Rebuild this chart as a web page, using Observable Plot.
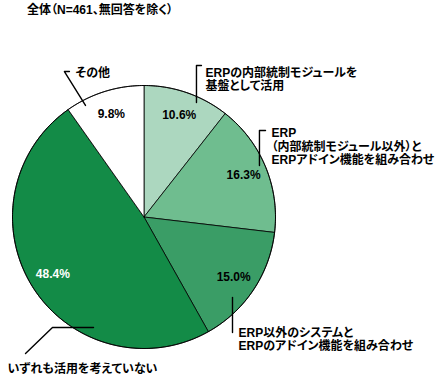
<!DOCTYPE html>
<html><head><meta charset="utf-8">
<script src="https://cdn.jsdelivr.net/npm/d3@7"></script>
<script src="https://cdn.jsdelivr.net/npm/@observablehq/plot@0.6"></script>
<style>
body{margin:0;background:#fff;}
#title{height:30px;line-height:30px;padding-left:27px;font:bold 12px "Liberation Sans","Noto Sans CJK JP",sans-serif;font-feature-settings:"palt";color:#000;}
svg text{font-feature-settings:"palt";}
</style>
</head><body>
<div id="title">全体（N=461、無回答を除く）</div>
<div id="chart"></div>
<script>
// ---- data ----
const categories = [
  "ERPの内部統制モジュールを\n基盤として活用",
  "ERP\n（内部統制モジュール以外）と\nERPアドイン機能を組み合わせ",
  "ERP以外のシステムと\nERPのアドイン機能を組み合わせ",
  "いずれも活用を考えていない",
  "その他"
];
const values = [10.6, 16.3, 15.0, 48.4, 9.8];
const valueLabels = ["10.6%", "16.3%", "15.0%", "48.4%", "9.8%"];

// ---- styles ----
const fills = ["#acd7bf", "#6fbd8f", "#3a9d66", "#138b47", "#ffffff"];
const labelColors = ["#000", "#000", "#000", "#fff", "#000"];

// ---- layout (pie data units: radius = 1) ----
const labelPos = [[0.468, 1.049], [0.970, 0.536], [0.719, -0.928], [-1.038, -1.152], [-0.521, 1.099]];
const leaderLines = [
  [[0.437, 1.152], [0.399, 1.152], [0.399, 0.871]],
  [[0.924, 0.658], [0.878, 0.658], [0.878, 0.392]],
  [[0.673, -0.612], [0.673, -0.878]],
  [[-0.901, -1.038], [-0.696, -0.840], [-0.384, -0.840]],
  [[-0.567, 1.106], [-0.605, 1.106], [-0.445, 0.848]]
];

// ---- build slices from data ----
const total = d3.sum(values);
let acc = 0;
const slices = values.map((v, i) => {
  const a0 = acc / total * 2 * Math.PI;
  acc += v;
  const a1 = acc / total * 2 * Math.PI;
  const n = Math.max(2, Math.ceil((a1 - a0) / (Math.PI / 180)));
  const pts = [[0, 0]];
  for (let k = 0; k <= n; k++) {
    const a = a0 + (a1 - a0) * k / n;
    pts.push([Math.sin(a), Math.cos(a)]);
  }
  pts.push([0, 0]);
  const mid = (a0 + a1) / 2;
  return {i, pts, mid};
});

const cx = 143.5, cy = 186.5, R = 131.5;
const font = '"Liberation Sans","Noto Sans CJK JP",sans-serif';

const marks = [];
slices.forEach(s => {
  marks.push(Plot.line(s.pts, {x: d => d[0], y: d => d[1], fill: fills[s.i], stroke: "#000", strokeWidth: 0.8, curve: "linear"}));
});
// outer circle outline
marks.push(Plot.line(d3.range(0, 361).map(a => [Math.sin(a * Math.PI / 180), Math.cos(a * Math.PI / 180)]), {x: d => d[0], y: d => d[1], stroke: "#000", strokeWidth: 0.9}));
// percent labels
marks.push(Plot.text(slices, {
  x: s => 0.82 * Math.sin(s.mid), y: s => 0.82 * Math.cos(s.mid),
  text: s => valueLabels[s.i], fill: s => labelColors[s.i],
  fontSize: 12, fontWeight: "bold", fontFamily: font, textAnchor: "middle"
}));
// leader lines
leaderLines.forEach(l => {
  marks.push(Plot.line(l, {x: d => d[0], y: d => d[1], stroke: "#000", strokeWidth: 1.4}));
});
// category labels
marks.push(Plot.text(categories.map((c, i) => ({c, i})), {
  x: d => labelPos[d.i][0], y: d => labelPos[d.i][1], text: d => d.c,
  fill: "#000", fontSize: 12, fontWeight: "bold", fontFamily: font,
  textAnchor: "start", lineAnchor: "middle", lineHeight: 1.12
}));

const chart = Plot.plot({
  width: 440, height: 350,
  x: {domain: [-1, 1], range: [cx - R, cx + R], axis: null},
  y: {domain: [-1, 1], range: [cy + R, cy - R], axis: null},
  color: {type: "identity"},
  style: {fontFamily: font, background: "#fff", overflow: "visible"},
  marks
});
document.getElementById("chart").appendChild(chart);
</script>
</body></html>
